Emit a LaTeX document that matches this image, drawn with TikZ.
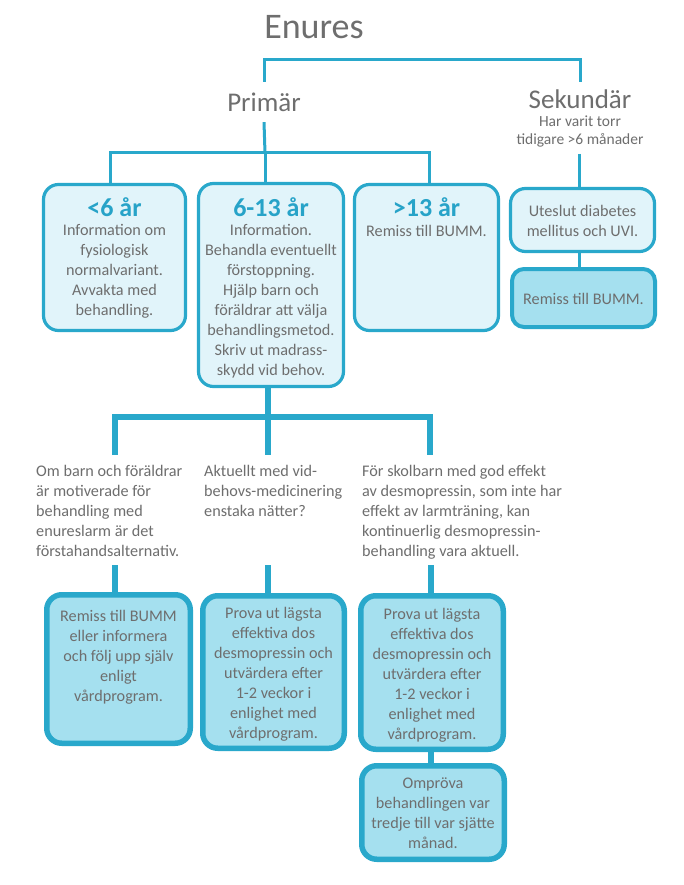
\documentclass[tikz,border=0pt]{standalone}
\usepackage{fontspec}
\setmainfont{Carlito}
\definecolor{cblue}{HTML}{29A8CB}
\definecolor{lfill}{HTML}{E1F4FA}
\definecolor{dfill}{HTML}{A5E0EF}
\definecolor{cgray}{HTML}{6E6E6E}
\definecolor{hblue}{HTML}{27A3C8}
\begin{document}
\begin{tikzpicture}[x=1pt,y=-1pt,
 box/.style={draw=cblue,line width=3.2pt,rounded corners=15pt,fill=lfill,inner sep=0pt},
 dbox/.style={draw=cblue,line width=5.5pt,rounded corners=15pt,fill=dfill,inner sep=0pt},
 ebox/.style={draw=cblue,line width=4pt,rounded corners=12pt,fill=dfill,inner sep=0pt},
 body/.style={text=cgray,font=\fontsize{16.2}{20}\selectfont,align=center,inner sep=0pt},
 head/.style={text=hblue,font=\bfseries\fontsize{26}{28}\selectfont,inner sep=0pt},
 mid/.style={text=cgray,font=\fontsize{16.2}{20}\selectfont,align=left,inner sep=0pt},
 thinln/.style={draw=cblue,line width=3pt},
 thickln/.style={draw=cblue,line width=5.5pt},
]
\useasboundingbox[fill=white] (0,0) rectangle (683,885);
% titles
\node[text=cgray, font=\fontsize{36}{40}\selectfont, inner sep=0pt] (title) at (314,27) {Enures};
\node[text=cgray, font=\fontsize{27}{28}\selectfont, minimum height=40pt, inner sep=0pt] (prim) at (264,102) {Primär};
\node[text=cgray, font=\fontsize{27}{28}\selectfont, minimum height=20pt, inner sep=0pt] (sek) at (580,99) {Sekundär};
\node[text=cgray, font=\fontsize{15.5}{18}\selectfont, align=center, inner sep=0pt] (sekt) at (580,132) {Har varit torr\\tidigare >6 månader};
% top bracket
\coordinate (t1) at (264,60);
\coordinate (t2) at (580,60);
\coordinate (t2b) at (580,82);
\draw[thinln] (prim.north) -- (t1) -- (t2) -- (t2b);
% row 1 boxes
\node[box, minimum width=142pt, minimum height=146pt] (bA) at (114.5,257.5) {};
\node[box, minimum width=145pt, minimum height=203pt] (bB) at (271,285) {};
\node[box, minimum width=144pt, minimum height=146pt] (bC) at (426.5,257.5) {};
\node[box, minimum width=144pt, minimum height=63pt] (bD) at (582.5,220) {};
\node[ebox, minimum width=143pt, minimum height=58pt] (bE) at (583.5,298) {};
% primär connectors
\coordinate (p1) at (265,153);
\coordinate (pL) at (110,153);
\coordinate (pR) at (429,153);
\draw[thinln] (prim.south) -- (p1);
\draw[thinln] (pL |- bA.north) -- (pL) -- (pR) -- (pR |- bC.north);
\draw[thinln] (p1) -- (p1 |- bB.north);
\coordinate (s1) at (579,154);
\draw[thinln] (s1) -- (s1 |- bD.north);
\draw[thinln] (s1 |- bD.south) -- (s1 |- bE.north);
% row 1 texts
\node[head] (hA) at (114.5,207.5) {<6 år};
\node[body, anchor=north] (tA) at (114.5,224.5) {Information om\\fysiologisk\\normalvariant.\\Avvakta med\\behandling.};
\node[head] (hB) at (271,207.5) {6-13 år};
\node[body, anchor=north] (tB) at (271,224) {Information.\\Behandla eventuellt\\förstoppning.\\Hjälp barn och\\föräldrar att välja\\behandlingsmetod.\\Skriv ut madrass-\\skydd vid behov.};
\node[head] (hC) at (426.5,207.5) {>13 år};
\node[body, anchor=north] (tC) at (426.5,225.5) {Remiss till BUMM.};
\node[body] (tD) at (582.5,221) {Uteslut diabetes\\mellitus och UVI.};
\node[body] (tE) at (583.5,299) {Remiss till BUMM.};
% middle bracket
\coordinate (m1) at (268,417);
\coordinate (mL) at (115,455);
\coordinate (mM) at (268,455);
\coordinate (mR) at (430,455);
\draw[thickln] (bB.south -| m1) -- (mM);
\draw[thickln] (mL) |- (m1) -| (mR);
% middle texts
\node[mid, anchor=north west] (q1) at (36,465.5) {Om barn och föräldrar\\är motiverade för\\behandling med\\enureslarm är det\\förstahandsalternativ.};
\node[mid, anchor=north west] (q2) at (204,465.5) {Aktuellt med vid-\\behovs-medicinering\\enstaka nätter?};
\node[mid, anchor=north west] (q3) at (362,465.5) {För skolbarn med god effekt\\av desmopressin, som inte har\\effekt av larmträning, kan\\kontinuerlig desmopressin-\\behandling vara aktuell.};
% bottom boxes
\node[dbox, minimum width=143.5pt, minimum height=148.5pt] (bF) at (118.5,669) {};
\node[dbox, minimum width=141.5pt, minimum height=152.5pt] (bG) at (273.5,672) {};
\node[dbox, minimum width=142.5pt, minimum height=153.5pt] (bH) at (432,672.5) {};
\node[dbox, minimum width=142.5pt, minimum height=93.5pt] (bI) at (433,812.5) {};
\coordinate (c1) at (115,565);
\coordinate (c2) at (268,565);
\coordinate (c3) at (431,565);
\draw[thickln] (c1) -- (c1 |- bF.north);
\draw[thickln] (c2) -- (c2 |- bG.north);
\draw[thickln] (c3) -- (c3 |- bH.north);
\draw[thickln] (c3 |- bH.south) -- (c3 |- bI.north);
\node[body, anchor=north] (tF) at (118.5,610) {Remiss till BUMM\\eller informera\\och följ upp själv\\enligt\\vårdprogram.};
\node[body, anchor=north] (tG) at (273.5,607) {Prova ut lägsta\\effektiva dos\\desmopressin och\\utvärdera efter\\1-2 veckor i\\enlighet med\\vårdprogram.};
\node[body, anchor=north] (tH) at (432,608.5) {Prova ut lägsta\\effektiva dos\\desmopressin och\\utvärdera efter\\1-2 veckor i\\enlighet med\\vårdprogram.};
\node[body] (tI) at (433,813) {Ompröva\\behandlingen var\\tredje till var sjätte\\månad.};
\end{tikzpicture}
\end{document}
